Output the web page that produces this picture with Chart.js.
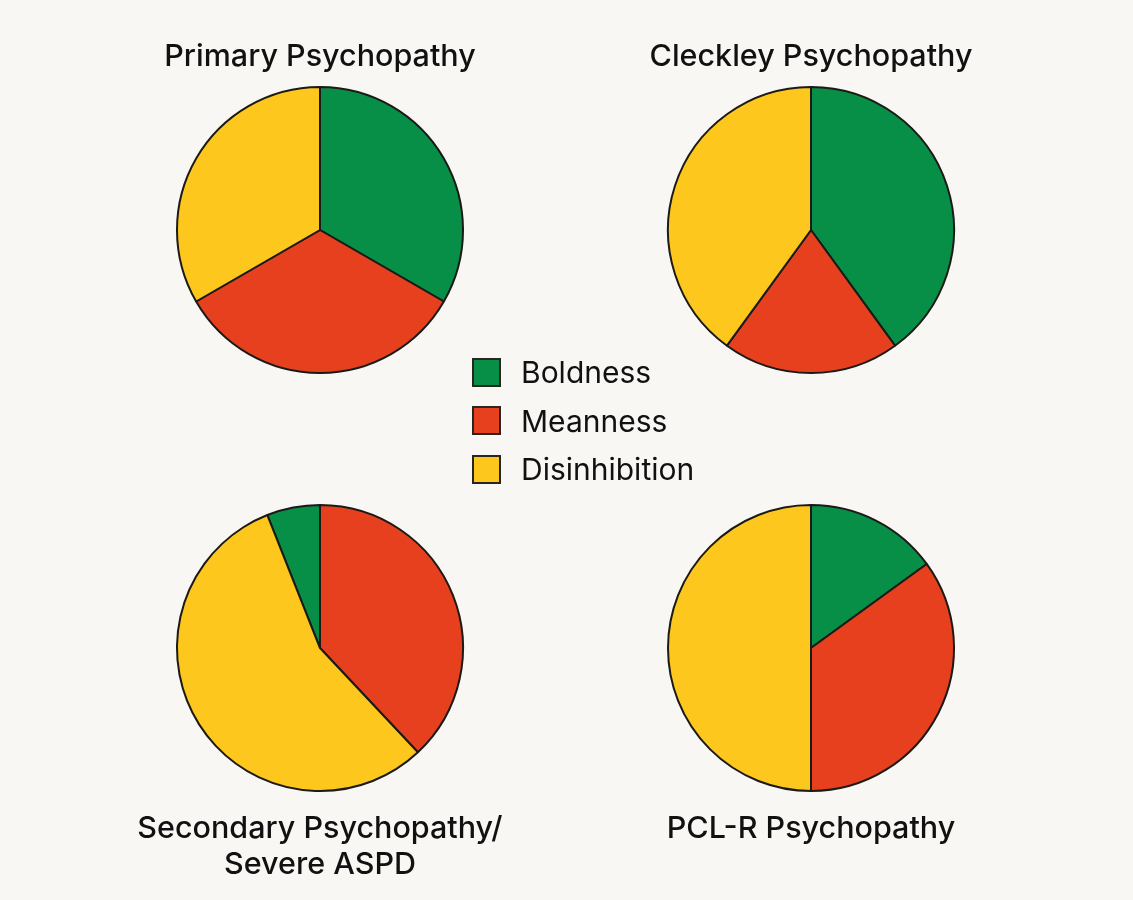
<!DOCTYPE html>
<html>
<head>
<meta charset="utf-8">
<title>Psychopathy triarchic profiles</title>
<script src="https://cdn.jsdelivr.net/npm/chart.js@4.4.0/dist/chart.umd.min.js"></script>
<style>
  body { margin: 0; background: #f8f7f3; width: 1133px; height: 900px; position: relative; overflow: hidden; font-family: Inter, "Liberation Sans", sans-serif; }
  .box { position: absolute; }
  #legend { position: absolute; left: 472px; top: 348px; }
  .row { display: flex; align-items: center; height: 48.5px; }
  .sw { width: 29px; height: 29px; box-sizing: border-box; border: 2px solid #2a2520; }
  .lab { margin-left: 20px; font-size: 30px; color: #111; line-height: 30px; }
</style>
</head>
<body>
<div class="box" style="left:110px; top:20px; width:420px; height:354px"><canvas id="c0"></canvas></div>
<div class="box" style="left:601px; top:20px; width:420px; height:354px"><canvas id="c1"></canvas></div>
<div class="box" style="left:110px; top:504px; width:420px; height:389px"><canvas id="c2"></canvas></div>
<div class="box" style="left:601px; top:504px; width:420px; height:353px"><canvas id="c3"></canvas></div>
<div id="legend"></div>
<script>
  // traits and colours
  const traits = ['Boldness', 'Meanness', 'Disinhibition'];
  const traitColors = ['#078f47', '#e6401f', '#fdc71d'];

  // share of each trait (%)
  const primary = [33.3, 33.3, 33.3];
  const cleckley = [40, 20, 40];
  const secondary = [6, 38, 56];
  const pclr = [15, 35, 50];

  const titles = ['Primary Psychopathy', 'Cleckley Psychopathy', ['Secondary Psychopathy/', 'Severe ASPD'], 'PCL-R Psychopathy'];

  function pie(id, values, title, pos, rotate) {
    var total = values.reduce(function(a, b) { return a + b; }, 0);
    return new Chart(document.getElementById(id), {
      type: 'pie',
      data: {
        labels: traits,
        datasets: [{
          data: values,
          backgroundColor: traitColors,
          borderColor: '#1c1a17',
          borderWidth: 2,
          hoverBorderWidth: 2,
          hoverOffset: 0
        }]
      },
      options: {
        responsive: true,
        maintainAspectRatio: false,
        animation: false,
        // start the pie so that the first slice ends at 12 o'clock when asked
        rotation: rotate ? -values[0] / total * 360 : 0,
        layout: { padding: 0 },
        plugins: {
          legend: { display: false },
          tooltip: { enabled: false },
          title: {
            display: true,
            text: title,
            position: pos,
            color: '#111',
            font: { family: 'Inter', size: 30.5, weight: '500', lineHeight: 1.18 },
            padding: pos === 'top' ? { top: 19, bottom: 11 } : { top: 19, bottom: 10 }
          }
        }
      }
    });
  }

  pie('c0', primary, titles[0], 'top', false);
  pie('c1', cleckley, titles[1], 'top', false);
  pie('c2', secondary, titles[2], 'bottom', true);
  pie('c3', pclr, titles[3], 'bottom', false);

  // shared legend in the middle
  var lg = document.getElementById('legend');
  traits.forEach(function(t, i) {
    var row = document.createElement('div');
    row.className = 'row';
    row.innerHTML = '<div class="sw" style="background:' + traitColors[i] + '"></div><div class="lab">' + t + '</div>';
    lg.appendChild(row);
  });
</script>
</body>
</html>
